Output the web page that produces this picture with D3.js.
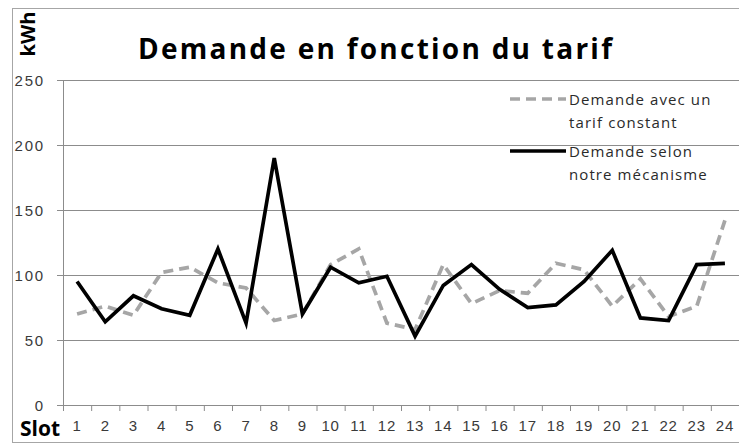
<!DOCTYPE html>
<html>
<head>
<meta charset="utf-8">
<script src="https://cdn.jsdelivr.net/npm/d3@7"></script>
<style>
  body { margin: 0; background: #fff; }
  svg { display: block; font-family: "Open Sans", sans-serif; }
</style>
</head>
<body>
<div id="wrapper"></div>
<script>
// data
const slots = d3.range(1, 25).map(String)
const constantTariff = [70, 76, 69, 102, 106, 94, 90, 65, 70, 108, 120, 63, 58, 108, 78, 88, 86, 109, 104, 76, 97, 68, 76, 142]
const ourMechanism = [95, 64, 84, 74, 69, 120, 63, 190, 70, 106, 94, 99, 53, 92, 108, 89, 75, 77, 95, 119, 67, 65, 108, 109]
const yTicks = [0, 50, 100, 150, 200, 250]
const legendLabels = [["Demande avec un", "tarif constant"], ["Demande selon", "notre mécanisme"]]

const dimensions = {
  width: 739,
  height: 448,
  margin: { top: 80, right: 0, bottom: 43, left: 63 }
}
dimensions.boundedWidth = dimensions.width - dimensions.margin.left - dimensions.margin.right
dimensions.boundedHeight = dimensions.height - dimensions.margin.top - dimensions.margin.bottom

const svg = d3.select("#wrapper").append("svg")
  .attr("width", dimensions.width)
  .attr("height", dimensions.height)

// outer chart frame
svg.append("rect")
  .attr("x", 12.5).attr("y", 8.5)
  .attr("width", dimensions.width)
  .attr("height", 434)
  .attr("fill", "none")
  .attr("stroke", "#a6a6a6")

const bounds = svg.append("g")
  .attr("transform", `translate(${dimensions.margin.left},${dimensions.margin.top})`)

const xScale = d3.scaleBand()
  .domain(slots)
  .range([0, dimensions.boundedWidth])

const edgeScale = d3.scaleLinear()
  .domain([0, slots.length])
  .range([0, dimensions.boundedWidth])

const yScale = d3.scaleLinear()
  .domain([0, 250])
  .range([dimensions.boundedHeight, 0])

// gridlines + y labels
const yAxis = bounds.append("g")
  .call(d3.axisLeft(yScale).tickValues(yTicks).tickSize(-dimensions.boundedWidth).tickSizeOuter(0).tickPadding(18))
yAxis.select(".domain").remove()
yAxis.selectAll(".tick line")
  .attr("stroke", "#8c8c8c")
  .attr("x1", -6)
yAxis.selectAll(".tick text")
  .attr("fill", "#3a3a3a")
  .style("font-size", "15px")
  .style("letter-spacing", "1.8px")
  .attr("dy", "0.36em")

bounds.append("line")
  .attr("x1", 0.5).attr("x2", 0.5)
  .attr("y1", 0).attr("y2", dimensions.boundedHeight)
  .attr("stroke", "#8c8c8c")

// x axis: ticks at slot boundaries, labels at centres
const xEdges = bounds.append("g")
  .attr("transform", `translate(0,${dimensions.boundedHeight})`)
  .call(d3.axisBottom(edgeScale).ticks(slots.length).tickSize(6).tickFormat(""))
xEdges.selectAll("line, path").attr("stroke", "#8c8c8c")

const xAxis = bounds.append("g")
  .attr("transform", `translate(0,${dimensions.boundedHeight})`)
  .call(d3.axisBottom(xScale).tickSize(0).tickPadding(18))
xAxis.select(".domain").remove()
xAxis.selectAll(".tick text")
  .attr("fill", "#3a3a3a")
  .style("font-size", "15px")
  .style("letter-spacing", "0.8px")
  .attr("dy", "0.5em")

// lines
const lineGen = values => d3.line()
  .x((d, i) => xScale(slots[i]) + xScale.bandwidth() / 2)
  .y(d => yScale(d))(values)

bounds.append("path")
  .attr("d", lineGen(constantTariff))
  .attr("fill", "none")
  .attr("stroke", "#a6a6a6")
  .attr("stroke-width", 3.7)
  .attr("stroke-dasharray", "10,6")

bounds.append("path")
  .attr("d", lineGen(ourMechanism))
  .attr("fill", "none")
  .attr("stroke", "#000")
  .attr("stroke-width", 3.7)
  .attr("stroke-linejoin", "miter")

// title
svg.append("text")
  .attr("x", 375).attr("y", 59)
  .attr("text-anchor", "middle")
  .attr("fill", "#000")
  .attr("textLength", 474)
  .attr("lengthAdjust", "spacing")
  .style("font-size", "28px")
  .style("font-weight", "bold")
  .text("Demande en fonction du tarif")

svg.append("text")
  .attr("transform", "translate(35,34) rotate(-90)")
  .attr("text-anchor", "middle")
  .style("font-size", "20px")
  .style("font-weight", "bold")
  .text("kWh")

svg.append("text")
  .attr("x", 20).attr("y", 436)
  .style("font-size", "21px")
  .style("font-weight", "bold")
  .text("Slot")

// legend
const legend = svg.append("g").attr("transform", "translate(510,99)")
const legendStyles = [
  { stroke: "#a6a6a6", dash: "10,6" },
  { stroke: "#000", dash: null }
]
legendLabels.forEach((lines, i) => {
  const g = legend.append("g").attr("transform", `translate(0,${i * 52})`)
  g.append("line")
    .attr("x1", 0).attr("x2", 56)
    .attr("stroke", legendStyles[i].stroke)
    .attr("stroke-width", 3.7)
    .attr("stroke-dasharray", legendStyles[i].dash)
  lines.forEach((t, j) => {
    g.append("text")
      .attr("x", 59).attr("y", 6 + j * 23)
      .attr("fill", "#2a2a2a")
      .style("font-size", "15px")
      .style("letter-spacing", "1.1px")
      .text(t)
  })
})
</script>
</body>
</html>
